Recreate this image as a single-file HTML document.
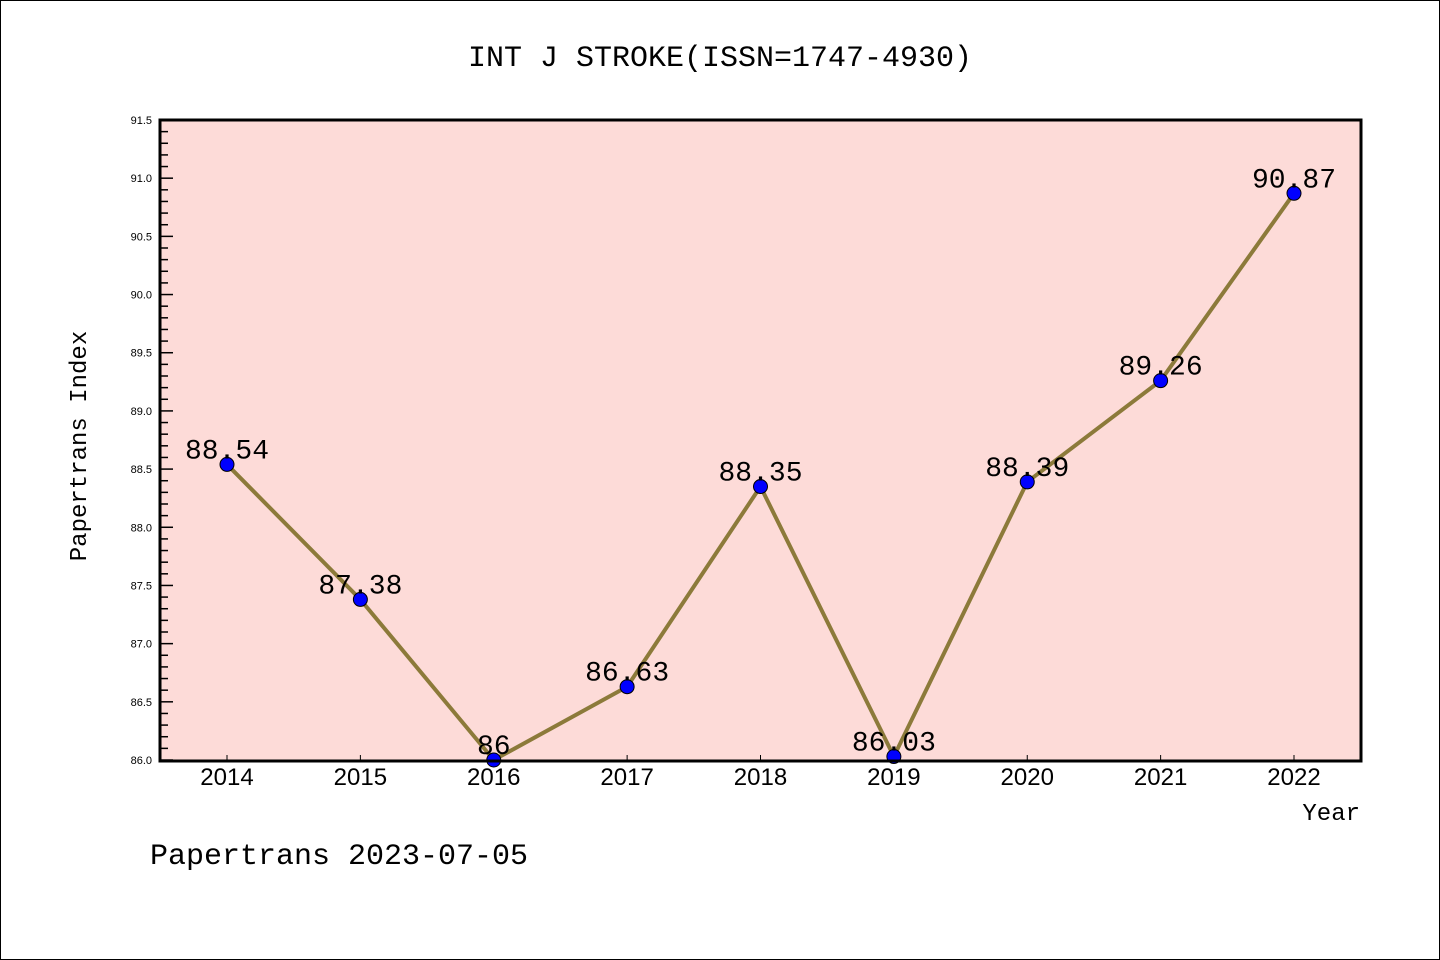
<!DOCTYPE html>
<html><head><meta charset="utf-8"><style>
body{margin:0;background:#fff;}
svg{display:block;font-family:"Liberation Mono","DejaVu Sans Mono",monospace;}
</style></head><body>
<svg id="chart" width="1440" height="960">
<rect x="0.5" y="0.5" width="1439" height="959" fill="#fff" stroke="#000"/>
<text x="720" y="66" text-anchor="middle" font-size="30">INT J STROKE(ISSN=1747-4930)</text>
<rect x="160" y="120" width="1201" height="641" fill="#fddbd8"/>
<g id="ticks"></g>
<g id="series"></g>
<rect x="160" y="120" width="1201" height="641" fill="none" stroke="#000" stroke-width="3"/>
<text transform="translate(86,446) rotate(-90)" text-anchor="middle" font-size="24">Papertrans Index</text>
<text x="1360" y="820" text-anchor="end" font-size="24">Year</text>
<text x="150" y="864" font-size="30">Papertrans 2023-07-05</text>
</svg>
<script>
const years=[2014,2015,2016,2017,2018,2019,2020,2021,2022];
const values=[88.54,87.38,86,86.63,88.35,86.03,88.39,89.26,90.87];
const labels=["88.54","87.38","86","86.63","88.35","86.03","88.39","89.26","90.87"];
const yTicks=["86.0","86.5","87.0","87.5","88.0","88.5","89.0","89.5","90.0","90.5","91.0","91.5"];
const yMin=86.0,yMax=91.5;
const NS="http://www.w3.org/2000/svg";
function sx(i){return 227+i*(1294-227)/(years.length-1);}
function sy(v){return 760-(v-yMin)/(yMax-yMin)*640;}
const tg=document.getElementById('ticks');
function mk(tag,attrs,parent){const e=document.createElementNS(NS,tag);for(const k in attrs)e.setAttribute(k,attrs[k]);parent.appendChild(e);return e;}
for(let k=0;k<=55;k++){
  const v=yMin+k*0.1,y=sy(v),major=k%5===0;
  const t=mk('line',{x1:160,x2:160+(major?13:8),y1:y,y2:y,stroke:'#000','stroke-width':1.5},tg);
  
  
}
yTicks.forEach(s=>{
  const t=mk('text',{x:152,y:sy(parseFloat(s))+4,'text-anchor':'end','font-size':11,'font-family':'Liberation Sans, sans-serif'},tg);
  t.textContent=s;
  
  
});
years.forEach((yr,i)=>{
  const l=mk('line',{x1:sx(i),x2:sx(i),y1:761,y2:755,stroke:'#000','stroke-width':1},tg);
  
  
  const t=mk('text',{x:sx(i),y:785,'text-anchor':'middle','font-size':24,'font-family':'Liberation Sans, sans-serif'},tg);
  t.textContent=yr;
  
  
});
const sg=document.getElementById('series');
const pl=mk('polyline',{points:values.map((v,i)=>sx(i)+','+sy(v)).join(' '),fill:'none',stroke:'#8c7a3a','stroke-width':4},sg);


values.forEach((v,i)=>{
  const c=mk('circle',{cx:sx(i),cy:sy(v),r:7,fill:'#0000ff',stroke:'#000','stroke-width':1},sg);
  
  
  const t=mk('text',{x:sx(i),y:sy(v)-6,'text-anchor':'middle','font-size':28},sg);
  t.textContent=labels[i];
  
  
});
</script>
</body></html>
